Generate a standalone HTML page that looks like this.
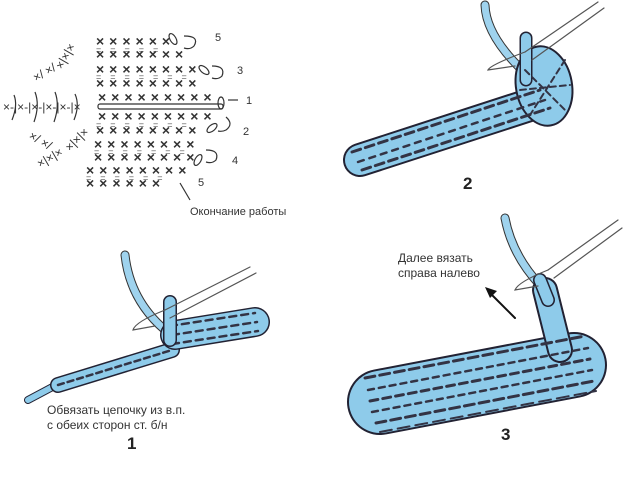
<!DOCTYPE html>
<html><head><meta charset="utf-8"><style>
html,body{margin:0;padding:0;background:#fff;}
svg{display:block;font-family:"Liberation Sans",sans-serif;}
</style></head><body>
<svg width="640" height="480" viewBox="0 0 640 480">
<rect width="640" height="480" fill="#fff"/>
<!-- ===== CHART ===== -->
<g fill="#333" font-size="14" font-weight="bold">
<text x="96" y="46" letter-spacing="5">××××××</text>
<text x="96" y="59" letter-spacing="5">×××××××</text>
<text x="96" y="74" letter-spacing="5">××××××××</text>
<text x="96" y="88" letter-spacing="5">××××××××</text>
<text x="98" y="102" letter-spacing="5">×××××××××</text>
<text x="98" y="121" letter-spacing="5">×××××××××</text>
<text x="96" y="135" letter-spacing="5">××××××××</text>
<text x="94" y="149" letter-spacing="5">××××××××</text>
<text x="94" y="162" letter-spacing="5">××××××××</text>
<text x="86" y="175" letter-spacing="5">××××××××</text>
<text x="86" y="188" letter-spacing="5">××××××</text>
</g>
<g fill="#555" font-size="9">
<text x="96" y="53" letter-spacing="9">=====</text>
<text x="96" y="80" letter-spacing="9">=======</text>
<text x="96" y="128" letter-spacing="9">=======</text>
<text x="94" y="155" letter-spacing="9">=======</text>
<text x="86" y="181" letter-spacing="9">======</text>
</g>
<g fill="#333" font-size="12">
<text x="3" y="111">×-|×-|×-|×-|×-|×</text>
<text x="36" y="82" transform="rotate(-30 36 82)">×/ ×/</text>
<text x="62" y="70" transform="rotate(-60 62 70)">×|×|×</text>
<text x="28" y="138" transform="rotate(30 28 138)">×/ ×/</text>
<text x="40" y="168" transform="rotate(-30 40 168)">×|×|×</text>
<text x="70" y="152" transform="rotate(-45 70 152)">×|×|×</text>
</g>
<g stroke="#333" stroke-width="1.2" fill="none">
<path d="M14 95 Q18 105 12 120 M35 92 Q40 105 34 122 M55 92 Q60 105 54 122 M75 94 Q80 105 74 120"/>
<rect x="98" y="104" width="125" height="5" rx="2"/>
<ellipse cx="173" cy="39" rx="3" ry="6" transform="rotate(-30 173 39)"/>
<ellipse cx="204" cy="70" rx="3" ry="6" transform="rotate(-50 204 70)"/>
<ellipse cx="221" cy="103" rx="3" ry="6"/>
<ellipse cx="212" cy="128" rx="3" ry="6" transform="rotate(50 212 128)"/>
<ellipse cx="198" cy="160" rx="3" ry="6" transform="rotate(30 198 160)"/>
<path d="M184 36 Q200 36 194 46 Q190 50 184 48"/>
<path d="M212 66 Q226 66 222 76 Q218 80 212 78"/>
<path d="M226 117 Q234 124 226 130 Q222 132 218 131"/>
<path d="M206 150 Q220 150 216 160 Q212 164 206 162"/>
<path d="M180 183 L190 200"/>
<path d="M228 100 L238 100"/>
</g>
<g fill="#333" font-size="11">
<text x="215" y="41">5</text><text x="237" y="74">3</text><text x="246" y="104">1</text>
<text x="243" y="135">2</text><text x="232" y="164">4</text><text x="198" y="186">5</text>
<text x="190" y="215">Окончание работы</text>
</g>
<!-- ===== FIG 2 ===== -->
<g fill="none" stroke-linecap="round">
<path d="M485 5 Q486 35 522 70" stroke="#333" stroke-width="9"/>
<path d="M485 5 Q486 35 522 70" stroke="#9fd3ee" stroke-width="7"/>
<path d="M360 160 L545 100" stroke="#223" stroke-width="34"/>
<path d="M360 160 L545 100" stroke="#8ecbea" stroke-width="30"/>
</g>
<ellipse cx="544" cy="86" rx="28" ry="40" fill="#8ecbea" stroke="#223" stroke-width="2" transform="rotate(-10 544 86)"/>
<g fill="none" stroke-linecap="round">
<path d="M526 38 L526 80" stroke="#223" stroke-width="13"/>
<path d="M526 38 L526 80" stroke="#8ecbea" stroke-width="10"/>
<path d="M352 152 L540 90" stroke="#334" stroke-width="3" stroke-dasharray="9 5"/>
<path d="M358 162 L545 100" stroke="#334" stroke-width="2.5" stroke-dasharray="6 6"/>
<path d="M362 170 L550 108" stroke="#334" stroke-width="3" stroke-dasharray="9 5"/>
<path d="M525 70 L565 110 M565 60 L530 115 M520 90 L570 85" stroke="#334" stroke-width="2" stroke-dasharray="6 4"/>
<path d="M525 52 L598 2 M532 60 L604 8" stroke="#555" stroke-width="1.2"/>
<path d="M525 52 Q490 65 488 70 L515 66" stroke="#555" stroke-width="1.2"/>
</g>
<text x="463" y="189" font-size="17" font-weight="bold" fill="#222">2</text>
<!-- ===== FIG 1 ===== -->
<g fill="none" stroke-linecap="round">
<path d="M125 255 Q130 300 165 330" stroke="#333" stroke-width="9"/>
<path d="M125 255 Q130 300 165 330" stroke="#9fd3ee" stroke-width="7"/>
<path d="M28 400 L60 383" stroke="#223" stroke-width="8"/>
<path d="M28 400 L60 383" stroke="#8ecbea" stroke-width="6"/>
<path d="M58 385 L172 350" stroke="#223" stroke-width="16"/>
<path d="M58 385 L172 350" stroke="#8ecbea" stroke-width="13"/>
<path d="M58 385 L172 350" stroke="#334" stroke-width="2.5" stroke-dasharray="6 4"/>
<path d="M175 335 L255 322" stroke="#223" stroke-width="30"/>
<path d="M175 335 L255 322" stroke="#8ecbea" stroke-width="27"/>
<path d="M170 326 L255 313 M172 335 L257 322 M172 344 L258 331" stroke="#334" stroke-width="2.5" stroke-dasharray="7 5"/>
<path d="M170 302 L170 340" stroke="#223" stroke-width="14"/>
<path d="M170 302 L170 340" stroke="#8ecbea" stroke-width="11"/>
<path d="M165 310 L250 267 M170 318 L256 273" stroke="#555" stroke-width="1.2"/>
<path d="M165 310 Q135 322 133 330 L155 326" stroke="#555" stroke-width="1.2"/>
</g>
<g fill="#333" font-size="12">
<text x="47" y="414">Обвязать цепочку из в.п.</text>
<text x="47" y="429">с обеих сторон ст. б/н</text>
<text x="127" y="449" font-size="17" font-weight="bold" fill="#222">1</text>
</g>
<!-- ===== FIG 3 ===== -->
<g fill="none" stroke-linecap="round">
<path d="M505 218 Q512 255 540 285" stroke="#333" stroke-width="9"/>
<path d="M505 218 Q512 255 540 285" stroke="#9fd3ee" stroke-width="7"/>
<path d="M380 402 L574 365" stroke="#223" stroke-width="66"/>
<path d="M380 402 L574 365" stroke="#8ecbea" stroke-width="62"/>
<path d="M545 290 L560 350" stroke="#223" stroke-width="26"/>
<path d="M545 290 L560 350" stroke="#8ecbea" stroke-width="22"/>
<path d="M540 280 L548 300" stroke="#223" stroke-width="14"/>
<path d="M540 280 L548 300" stroke="#8ecbea" stroke-width="11"/>
<path d="M365 378 L585 336" stroke="#334" stroke-width="3" stroke-dasharray="10 5"/>
<path d="M368 390 L588 348" stroke="#334" stroke-width="2.5" stroke-dasharray="6 5"/>
<path d="M370 401 L590 359" stroke="#334" stroke-width="3" stroke-dasharray="8 5"/>
<path d="M372 412 L592 370" stroke="#334" stroke-width="2.5" stroke-dasharray="6 5"/>
<path d="M376 423 L594 381" stroke="#334" stroke-width="3" stroke-dasharray="10 5"/>
<path d="M380 432 L596 391" stroke="#334" stroke-width="2" stroke-dasharray="12 6"/>
<path d="M548 270 L618 220 M554 278 L622 228" stroke="#555" stroke-width="1.2"/>
<path d="M548 270 Q518 282 515 290 L538 286" stroke="#555" stroke-width="1.2"/>
<path d="M515 318 L490 293" stroke="#111" stroke-width="2"/>
</g>
<path d="M485 287 L497 291 L490 298 Z" fill="#111"/>
<g fill="#333" font-size="12">
<text x="398" y="262">Далее вязать</text>
<text x="398" y="277">справа налево</text>
<text x="501" y="440" font-size="17" font-weight="bold" fill="#222">3</text>
</g>
</svg>
</body></html>
